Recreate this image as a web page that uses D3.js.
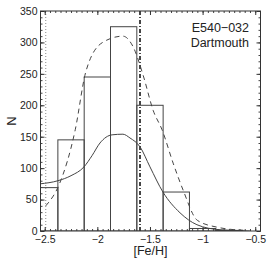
<!DOCTYPE html>
<html>
<head>
<meta charset="utf-8">
<script src="https://cdn.jsdelivr.net/npm/d3@7"></script>
<style>
body { margin: 0; background: #fff; }
svg text { font-family: "Liberation Sans", Arial, sans-serif; fill: #222; }
</style>
</head>
<body>
<div id="chart"></div>
<script>
// histogram bins of [Fe/H]
const binEdges = [-2.625, -2.375, -2.125, -1.875, -1.625, -1.375, -1.125, -0.875, -0.625];
const binCounts = [69, 145, 245, 325, 200, 62, 4, 1];

// solid curve
const solidX = [-2.545, -2.374, -2.25, -2.127, -2.05, -1.975, -1.86, -1.757, -1.69, -1.595, -1.5, -1.377, -1.215, -1.054, -0.836, -0.551];
const solidN = [75, 80, 88, 102, 120, 140, 153, 154, 148, 134, 102, 62, 29, 10, 2, 0];

// dashed curve
const dashX = [-2.49, -2.36, -2.21, -2.11, -1.95, -1.757, -1.66, -1.56, -1.47, -1.385, -1.28, -1.185, -1.05, -0.86, -0.6];
const dashN = [40, 75, 161, 253, 300, 310, 293, 245, 192, 161, 108, 65, 17, 6, 1];

const dottedLine = -2.49;
const dashDotLine = -1.595;

const xTicks = [-2.5, -2, -1.5, -1, -0.5];
const yTicks = [0, 50, 100, 150, 200, 250, 300, 350];
const labels = ["E540\u2212032", "Dartmouth"];

const width = 273, height = 264;
const margin = {top: 11, right: 12.5, bottom: 33, left: 40.5};
const iw = width - margin.left - margin.right;
const ih = height - margin.top - margin.bottom;

const svg = d3.select("#chart").append("svg")
  .attr("width", width).attr("height", height);

const g = svg.append("g").attr("transform", `translate(${margin.left},${margin.top})`);

const x = d3.scaleLinear().domain([-2.54, -0.45]).range([0, iw]);
const y = d3.scaleLinear().domain([0, 350]).range([ih, 0]);

g.append("clipPath").attr("id", "clip")
  .append("rect").attr("width", iw).attr("height", ih);

const plot = g.append("g").attr("clip-path", "url(#clip)");

// bars
plot.selectAll("rect.bar")
  .data(binCounts)
  .enter()
  .append("rect")
  .attr("class", "bar")
  .attr("x", (d, i) => x(binEdges[i]))
  .attr("y", d => y(d))
  .attr("width", (d, i) => x(binEdges[i + 1]) - x(binEdges[i]))
  .attr("height", d => ih - y(d))
  .attr("fill", "none")
  .attr("stroke", "#444")
  .attr("stroke-width", 1);

const line = d3.line().x(d => x(d[0])).y(d => y(d[1])).curve(d3.curveMonotoneX);

plot.append("path")
  .attr("d", line(d3.zip(solidX, solidN)))
  .attr("fill", "none").attr("stroke", "#444").attr("stroke-width", 1);

plot.append("path")
  .attr("d", line(d3.zip(dashX, dashN)))
  .attr("fill", "none").attr("stroke", "#444").attr("stroke-width", 1)
  .attr("stroke-dasharray", "5,4");

// vertical lines
plot.append("line")
  .attr("x1", x(dottedLine)).attr("x2", x(dottedLine))
  .attr("y1", 0).attr("y2", ih)
  .attr("stroke", "#888").attr("stroke-width", 1)
  .attr("stroke-dasharray", "1,2");

plot.append("line")
  .attr("x1", x(dashDotLine)).attr("x2", x(dashDotLine))
  .attr("y1", 0).attr("y2", ih)
  .attr("stroke", "#444").attr("stroke-width", 2)
  .attr("stroke-dasharray", "4,2,1,2");

// axes: major + minor ticks on all four sides
const xMinor = d3.range(-2.5, -0.45, 0.05);
const yMinor = d3.range(0, 351, 10);

const axes = [
  {ax: d3.axisBottom(x), tr: `translate(0,${ih})`, lab: true, minor: xMinor, major: xTicks, pad: 5},
  {ax: d3.axisTop(x), tr: "translate(0,0)", lab: false, minor: xMinor, major: xTicks, pad: 2},
  {ax: d3.axisLeft(y), tr: "translate(0,0)", lab: true, minor: yMinor, major: yTicks, pad: 3},
  {ax: d3.axisRight(y), tr: `translate(${iw},0)`, lab: false, minor: yMinor, major: yTicks, pad: 3}
];

axes.forEach(a => {
  // minor
  g.append("g").attr("transform", a.tr)
    .call(a.ax.tickValues(a.minor).tickSizeInner(-2).tickSizeOuter(0).tickFormat(""))
    .call(s => s.select(".domain").remove())
    .call(s => s.selectAll("line").attr("stroke", "#444"));
  // major
  const gg = g.append("g").attr("transform", a.tr)
    .call(a.ax.tickValues(a.major).tickSizeInner(-4).tickSizeOuter(0).tickPadding(a.pad)
      .tickFormat(a.lab ? (d => String(d).replace("-", "\u2212")) : ""))
    .call(s => s.select(".domain").remove())
    .call(s => s.selectAll("line").attr("stroke", "#333"));
  gg.selectAll("text").attr("font-size", 10.5).attr("fill", "#222");
});

g.append("rect").attr("width", iw).attr("height", ih)
  .attr("fill", "none").attr("stroke", "#333").attr("stroke-width", 1);

// axis titles
svg.append("text")
  .attr("x", margin.left + iw / 2).attr("y", 255)
  .attr("text-anchor", "middle").attr("font-size", 12.5)
  .text("[Fe/H]");

svg.append("text")
  .attr("transform", `translate(16,${margin.top + ih / 2}) rotate(-90)`)
  .attr("text-anchor", "middle").attr("font-size", 13)
  .text("N");

// labels top right
svg.selectAll("text.lab")
  .data(labels)
  .enter()
  .append("text")
  .attr("class", "lab")
  .attr("x", 249).attr("y", (d, i) => 32 + i * 15)
  .attr("text-anchor", "end").attr("font-size", 12.5)
  .text(d => d);
</script>
</body>
</html>
